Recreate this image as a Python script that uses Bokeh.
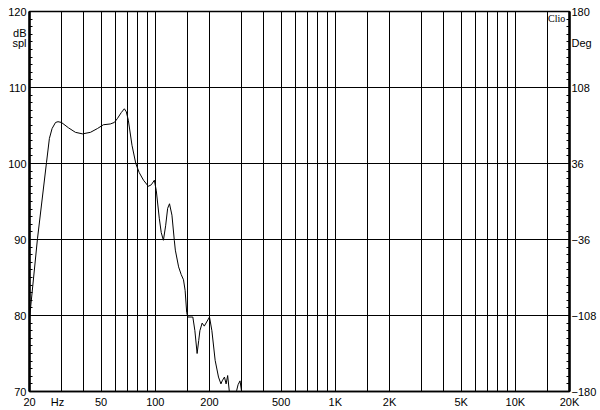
from bokeh.plotting import figure
from bokeh.models import FixedTicker, LinearAxis, Range1d, Label
from bokeh.embed import file_html
from bokeh.resources import INLINE

# ---- data: SPL response (Hz, dB) ----
freq = [20.0, 22.15, 24.85, 25.8, 26.7, 27.9, 28.8, 30.1, 32.9, 36.0, 39.4, 43.6, 47.7,
        51.5, 56.2, 59.2, 61.5, 64.7, 67.3, 69.0, 70.8, 74.2, 77.9, 81.4, 86.0, 91.5,
        95.0, 98.8, 101.3, 105.2, 107.9, 110.9, 114.1, 117.1, 119.9, 123.7, 127.5,
        129.2, 134.7, 139.2, 143.4, 146.4, 149.4, 151.5, 161.6, 165.9, 170.7, 174.2,
        176.9, 182.0, 187.1, 200.0, 206.2, 215.0, 224.4, 231.5, 235.2, 242.2, 247.3,
        252.3, 259.0, 271.0, 282.9, 288.3, 295.6, 302.0, 337.0]
spl = [79.6, 90.1, 100.1, 103.3, 104.6, 105.4, 105.5, 105.4, 104.7, 104.1, 103.9, 104.1,
       104.6, 105.1, 105.2, 105.4, 105.9, 106.7, 107.2, 106.8, 105.7, 102.4, 100.0, 98.8,
       97.8, 97.0, 97.2, 97.8, 96.4, 92.8, 90.9, 89.9, 91.8, 94.1, 94.7, 93.2, 89.9, 88.6,
       86.4, 85.4, 84.7, 83.3, 80.4, 79.8, 79.8, 78.0, 75.0, 76.7, 78.0, 79.0, 78.6, 79.8,
       78.0, 74.1, 71.9, 71.0, 71.4, 71.9, 71.0, 72.1, 69.5, 69.0, 70.1, 70.9, 71.4, 69.9,
       66.0]

# ---- axes / grid definitions ----
grid_freqs = [20, 30, 40, 50, 60, 70, 80, 90, 100, 150, 200, 300, 400, 500, 600, 700,
              800, 900, 1000, 1500, 2000, 3000, 4000, 5000, 6000, 7000, 8000, 9000,
              10000, 15000, 20000]
x_label_pos = [20, 28.6, 50, 100, 200, 500, 1000, 2000, 5000, 10000, 20000]
x_label_txt = ["20", "Hz", "50", "100", "200", "500", "1K", "2K", "5K", "10K", "20K"]
db_ticks = [70, 80, 90, 100, 110, 120]
db_unit_pos = [117.2, 115.8]
db_unit_txt = ["dB", "spl"]
deg_ticks = [-180, -108, -36, 36, 108, 180]
deg_unit_pos = [149.7]
deg_unit_txt = ["Deg"]

FONT = "Liberation Sans"
FS = "11px"

p = figure(width=599, height=410, x_axis_type="log", x_range=(20, 20000),
           y_range=(70, 120), output_backend="svg", toolbar_location=None,
           min_border_left=29, min_border_top=11, min_border_right=29,
           min_border_bottom=19)
p.background_fill_color = "white"
p.border_fill_color = "white"
p.outline_line_color = "black"
p.outline_line_width = 1.5

# x axis
xa = p.xaxis[0]
xa.ticker = FixedTicker(ticks=x_label_pos, minor_ticks=[])
xa.major_label_overrides = {v: t for v, t in zip(x_label_pos, x_label_txt)}
xa.major_tick_in = 0
xa.major_tick_out = 0
xa.minor_tick_in = 0
xa.minor_tick_out = 0
xa.axis_line_color = "black"
xa.axis_line_width = 1.5
xa.major_label_standoff = 4
xa.major_label_text_font = FONT
xa.major_label_text_font_size = FS
xa.major_label_text_color = "black"

p.xgrid.ticker = FixedTicker(ticks=grid_freqs)
p.xgrid.grid_line_color = "black"
p.xgrid.grid_line_width = 1
p.xgrid.grid_line_alpha = 1.0

# left y axis (numbers plus the "dB spl" unit text)
ya = p.yaxis[0]
ya.ticker = FixedTicker(ticks=db_ticks + db_unit_pos,
                        minor_ticks=[v for v in range(70, 121) if v % 10 != 0])
ya.major_label_overrides = {v: t for v, t in zip(db_unit_pos, db_unit_txt)}
ya.major_tick_in = 0
ya.major_tick_out = 0
ya.minor_tick_in = 3
ya.minor_tick_out = 0
ya.minor_tick_line_color = "black"
ya.axis_line_color = "black"
ya.axis_line_width = 2.5
ya.major_label_standoff = 3
ya.major_label_text_font = FONT
ya.major_label_text_font_size = FS
ya.major_label_text_color = "black"

p.ygrid.ticker = FixedTicker(ticks=db_ticks)
p.ygrid.grid_line_color = "black"
p.ygrid.grid_line_width = 1
p.ygrid.grid_line_alpha = 1.0

# right (phase) axis
p.extra_y_ranges = {"deg": Range1d(-180, 180)}
ra = LinearAxis(y_range_name="deg")
deg_minor = [round(-180 + 7.2 * i, 1) for i in range(51)]
deg_minor = [v for v in deg_minor if all(abs(v - t) > 0.01 for t in deg_ticks)]
ra.ticker = FixedTicker(ticks=deg_ticks + deg_unit_pos, minor_ticks=deg_minor)
ra.major_label_overrides = {v: t for v, t in zip(deg_unit_pos, deg_unit_txt)}
ra.major_tick_in = 0
ra.major_tick_out = 0
ra.minor_tick_in = 3
ra.minor_tick_out = 0
ra.axis_line_color = "black"
ra.axis_line_width = 2.5
ra.major_label_standoff = 2
ra.major_label_text_font = FONT
ra.major_label_text_font_size = FS
ra.major_label_text_color = "black"
p.add_layout(ra, "right")

# curve
p.line(freq, spl, line_color="black", line_width=1)

# brand text
p.add_layout(Label(x=15000, y=120, x_offset=1, y_offset=-1, text="Clio",
                   text_align="left", text_baseline="top",
                   text_font="Liberation Serif", text_font_size="10px",
                   text_color="black"))

open("out.html", "w").write(file_html(p, INLINE))
